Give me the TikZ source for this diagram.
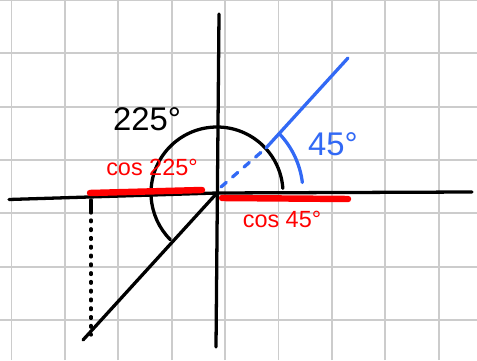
\documentclass[tikz,border=0pt]{standalone}
\usepackage{fontspec}
\setmainfont{Liberation Sans}
\usepackage{tikz}

\tikzset{
    gridline/.style={draw=black!20, line width=1.6pt},
    pen/.style={black, line width=2.8pt, line cap=round, line join=round},
    redpen/.style={red, line width=5.5pt, line cap=round},
    bluepen/.style={draw={rgb,255:red,50;green,105;blue,245}, line width=2.8pt, line cap=round}
}

\begin{document}
\begin{tikzpicture}[x=0.03cm, y=0.03cm]
        \useasboundingbox (0,0) rectangle (477,360);
        % Lưới ô vuông
        \foreach \k in {0,...,8}
            \draw[gridline] (11.5+53.4*\k,0) -- ++(0,360);
        \foreach \k in {0,...,6}
            \draw[gridline] (0,360-53.35*\k) -- ++(477,0);

        % Hệ trục
        \coordinate (O) at (217,167);
        \draw[pen] (9,160.5) -- (O) -- (472,168);
        \draw[pen] (219,346) -- (216,13);

        % Cung 225 độ và tia cuối
        \draw[pen] (O) ++(4:66) arc[start angle=4, end angle=225, radius=66];
        \draw[pen] (O) -- (83,20);
        \draw[pen] (91,160) -- (91,147);
        \draw[pen, dash pattern=on 1.5pt off 6pt] (91,140) -- (91,25);

        % Tia 45 độ
        \draw[bluepen, dash pattern=on 6pt off 7pt] (221,173) -- (266,212);
        \draw[bluepen] (266,212) -- (348,302);
        \draw[bluepen] (O) ++(7:86) arc[start angle=7, end angle=43, radius=86];

        % Hình chiếu cos
        \draw[redpen] (90,167) -- (202,170);
        \draw[redpen] (222,162) -- (348,161);

        % Nhãn
        \node (label225) at (147,241) {\fontsize{28}{28}\selectfont 225°};
        \node[text={rgb,255:red,50;green,105;blue,245}] (label45) at (333,216) {\fontsize{28}{28}\selectfont 45°};
        \node[red] (labelcos225) at (152,193) {\fontsize{20}{20}\selectfont cos 225°};
        \node[red] (labelcos45) at (282,141) {\fontsize{20}{20}\selectfont cos 45°};
    \end{tikzpicture}
\end{document}
